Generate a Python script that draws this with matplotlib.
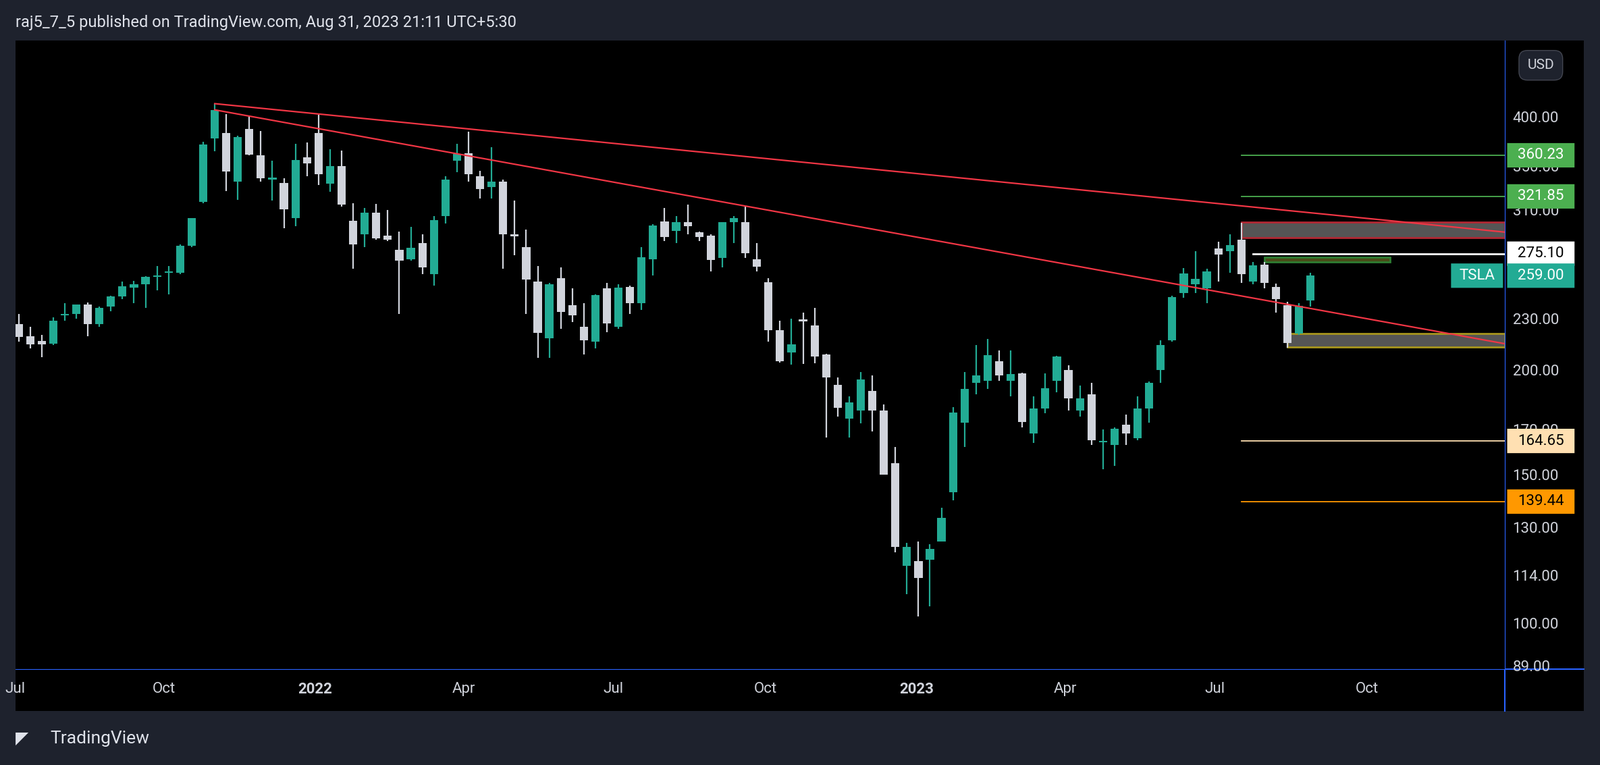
import numpy as np
import pandas as pd
import matplotlib
matplotlib.use('Agg')
import matplotlib.pyplot as plt
import matplotlib.dates as mdates
from matplotlib.patches import Rectangle, FancyBboxPatch
from matplotlib.lines import Line2D
import matplotlib.transforms as mtrans

plt.rcParams['font.family'] = 'Roboto'

# weekly TSLA candles, Jul 2021 .. Aug 2023 (open, high, low, close)
opens = [227.0, 219.5, 216.5, 215.0, 232.4, 233.0, 239.5, 227.0, 238.0, 244.9, 250.5, 253.0, 258.0, 261.0,
         261.0, 281.0, 317.0, 377.0, 383.0, 335.0, 387.0, 360.0, 337.0, 334.0, 303.0, 358.0,
         382.6, 333.0, 350.0, 301.0, 290.0, 308.0, 289.0, 278.0, 271.0, 283.0, 260.0, 305.0, 355.0, 362.0,
         340.0, 330.0, 335.0, 290.0, 280.0, 255.0, 218.0, 257.0, 239.0, 225.0, 216.0, 250.0, 225.0, 251.0,
         240.0, 271.0, 300.7, 293.0, 300.0, 291.9, 289.0, 272.0, 300.0, 300.0, 271.0, 254.5, 223.0, 210.0,
         229.8, 226.0, 208.6, 192.0, 175.0, 179.0, 189.0, 179.0, 155.0, 117.0,
         118.5, 118.9, 125.0, 143.0, 173.0, 193.0, 194.0, 205.0, 194.0, 198.0, 168.0, 180.0, 194.0, 199.9,
         179.0, 187.0, 164.0, 163.0, 172.0, 166.0, 180.0, 200.0, 217.0, 247.0, 253.0, 250.0, 279.0, 277.0,
         286.0, 255.0, 267.0, 251.0, 239.0, 221.0, 242.0]
highs = [233.0, 225.0, 220.0, 231.0, 240.0, 239.5, 240.5, 238.0, 245.0, 255.0, 255.4, 258.7, 266.0, 266.0,
         282.0, 303.5, 374.0, 414.5, 403.0, 380.0, 402.0, 385.0, 355.0, 338.0, 372.0, 373.0,
         402.7, 366.0, 365.0, 316.0, 312.0, 315.0, 310.0, 292.0, 296.0, 290.0, 305.0, 340.0, 371.6, 384.3,
         345.0, 368.0, 337.0, 318.0, 294.0, 266.0, 254.0, 265.0, 250.0, 240.0, 246.0, 254.0, 253.0, 252.0,
         280.0, 298.0, 311.9, 305.0, 314.7, 292.0, 290.0, 300.0, 305.0, 313.0, 283.0, 257.0, 229.0, 230.0,
         234.0, 237.0, 209.0, 196.0, 186.0, 198.9, 197.0, 182.0, 162.0, 124.5,
         125.0, 124.0, 137.0, 180.7, 199.0, 214.0, 217.7, 211.0, 211.0, 198.6, 186.0, 198.0, 207.8, 202.7,
         191.8, 193.0, 169.9, 170.8, 177.0, 185.9, 193.9, 217.0, 245.0, 264.6, 276.9, 264.0, 284.0, 290.3,
         299.3, 269.0, 269.0, 253.5, 241.0, 240.0, 261.0]
lows = [216.0, 212.0, 207.0, 214.0, 229.0, 230.0, 219.4, 225.0, 235.0, 243.0, 240.0, 237.0, 249.0, 246.0,
        260.0, 280.0, 316.0, 364.0, 326.7, 319.0, 360.0, 335.0, 318.0, 295.0, 296.5, 340.0,
        332.0, 326.0, 313.0, 264.0, 280.0, 286.0, 285.0, 233.3, 270.0, 260.0, 252.0, 299.0, 344.0, 335.0,
        320.0, 320.0, 264.0, 274.0, 233.0, 206.9, 206.9, 224.0, 228.0, 208.7, 212.0, 222.0, 224.0, 233.0,
        236.0, 259.0, 285.0, 283.0, 290.0, 285.0, 262.0, 265.0, 283.0, 272.0, 262.0, 216.0, 204.0, 203.0,
        203.5, 203.8, 166.2, 176.0, 166.2, 172.7, 169.0, 150.0, 121.4, 108.2,
        101.8, 104.6, 125.0, 140.0, 162.0, 187.0, 190.0, 194.0, 186.0, 171.0, 163.9, 177.5, 188.0, 179.0,
        176.0, 163.0, 152.4, 153.8, 163.0, 165.0, 173.0, 193.0, 216.0, 244.0, 247.0, 240.0, 255.0, 261.0,
        254.0, 253.0, 250.0, 234.0, 212.4, 220.0, 238.0]
closes = [219.0, 214.7, 214.5, 229.1, 233.0, 239.1, 226.8, 237.3, 244.5, 251.6, 253.2, 258.1, 258.4, 261.8,
          281.0, 303.2, 371.3, 407.4, 344.5, 379.0, 360.6, 338.3, 339.0, 310.9, 355.7, 352.3,
          342.3, 349.9, 314.6, 282.1, 307.8, 286.7, 285.7, 270.0, 279.4, 265.1, 301.8, 336.9, 361.5, 341.8,
          328.3, 335.0, 290.3, 288.5, 256.5, 221.3, 253.2, 234.5, 232.2, 216.8, 245.7, 227.3, 250.8, 240.1,
          272.2, 297.2, 288.2, 300.0, 296.7, 288.1, 270.2, 299.7, 303.4, 275.3, 265.3, 223.1, 205.0, 214.4,
          228.5, 207.5, 196.0, 180.2, 182.9, 194.9, 179.1, 150.2, 123.2, 123.2,
          113.1, 122.4, 133.4, 177.9, 190.0, 196.9, 208.3, 196.9, 197.8, 173.4, 180.1, 190.4, 207.5, 185.1,
          185.0, 165.1, 164.3, 170.1, 168.0, 180.1, 193.2, 214.0, 244.4, 260.5, 256.6, 261.8, 274.4, 281.4,
          260.0, 266.4, 253.9, 242.7, 215.5, 238.6, 259.0]

y_ticks = [89, 100, 114, 130, 150, 170, 200, 230, 270, 310, 350, 400]
x_tick_dates = ['2021-07-03', '2021-10-01', '2022-01-01', '2022-04-01', '2022-07-01', '2022-10-01',
                '2023-01-01', '2023-04-01', '2023-07-01', '2023-10-01']
x_tick_labels = ['Jul', 'Oct', '2022', 'Apr', 'Jul', 'Oct', '2023', 'Apr', 'Jul', 'Oct']

levels = [360.23, 321.85, 164.65, 139.44]
level_colors = ['#4caf50', '#4caf50', '#ffe0b2', '#ff9800']
last_price = 259.00
white_level = 275.10

BG = '#1e222d'
UP = '#22ab94'
DN = '#d1d4dc'
TXT = '#d1d4dc'
BLUE = '#2962ff'

dates = pd.date_range(end='2023-08-28', periods=len(closes), freq='W-MON')
xd = mdates.date2num(dates)

fig = plt.figure(figsize=(23.7, 11.33), dpi=100, facecolor=BG)
# black chart pane incl. price and time scales
fig.patches.append(Rectangle((15/1568, (750-697)/750), (1552-15)/1568, (697-40)/750,
                             transform=fig.transFigure, facecolor='black', edgecolor='none', zorder=-5))
ax = fig.add_axes([15/1568, (750-656)/750, (1475-15)/1568, (656-40)/750])
ax.set_zorder(2)
ax.set_facecolor('black')
ax.set_yscale('log')

w = 5.0
for x, o, h, l, c in zip(xd, opens, highs, lows, closes):
    col = UP if c >= o else DN
    ax.plot([x, x], [l, h], color=col, lw=1.6, zorder=3, solid_capstyle='butt')
    lo, hi = min(o, c), max(o, c)
    if hi / lo < 1.004:
        hi = lo * 1.004
    ax.add_patch(Rectangle((x - w/2, lo), w, hi - lo, facecolor=col, edgecolor='none', zorder=4))

x0 = xd[0] - 1.9
x1 = mdates.date2num(pd.Timestamp('2023-12-24'))
ax.set_xlim(x0, x1)
ax.set_ylim(88.1, 493)

# trend lines
peak = mdates.date2num(pd.Timestamp('2021-11-01'))
ax.plot([peak, x1], [415, 291.8], color='#f23645', lw=1.6, zorder=5)
ax.plot([peak, x1], [408, 214.9], color='#f23645', lw=1.6, zorder=5)

# zones
def d(s):
    return mdates.date2num(pd.Timestamp(s))

ax.add_patch(Rectangle((d('2023-07-17'), 287.2), x1 - d('2023-07-17'), 300 - 287.2,
                       facecolor='#555555', edgecolor='#b22833', lw=2, zorder=2))
ax.add_patch(Rectangle((d('2023-08-14'), 212.9), x1 - d('2023-08-14'), 220.9 - 212.9,
                       facecolor='#555555', edgecolor='#a8961c', lw=2, zorder=2))
ax.add_patch(Rectangle((d('2023-07-31'), 268.7), d('2023-10-15') - d('2023-07-31'), 272.6 - 268.7,
                       facecolor='#4a4a18', edgecolor='#2e7d32', lw=2, zorder=2))

for lv, col in zip(levels, level_colors):
    ax.plot([d('2023-07-17'), x1], [lv, lv], color=col, lw=1.3, zorder=2)
ax.plot([d('2023-07-24'), x1], [white_level, white_level], color='white', lw=2, zorder=2)

# axes styling
for s in ['top', 'left']:
    ax.spines[s].set_visible(False)
ax.spines['right'].set_color(BLUE)
ax.spines['bottom'].set_color(BLUE)
ax.yaxis.tick_right()
ax.set_yticks(y_ticks)
ax.set_yticklabels([f'{v:.2f}' for v in y_ticks])
ax.yaxis.set_minor_locator(matplotlib.ticker.NullLocator())
ax.tick_params(axis='y', colors=TXT, labelsize=16, length=0, pad=8)
ax.set_xticks([d(s) for s in x_tick_dates])
ax.set_xticklabels(x_tick_labels)
ax.tick_params(axis='x', colors=TXT, labelsize=16, length=0, pad=14)
for t in ax.get_xticklabels():
    if t.get_text() in ('2022', '2023'):
        t.set_fontweight('bold')

# extend blue scale borders
fig.add_artist(Line2D([1475/1568, 1475/1568], [(750-697)/750, (750-87)/750], color=BLUE, lw=1.5))
fig.add_artist(Line2D([1475/1568, 1552/1568], [(750-656)/750, (750-656)/750], color=BLUE, lw=1.5))

# price labels on scale
tr = mtrans.blended_transform_factory(ax.transAxes, ax.transData)
k = 1.034
def box(xa, xb, v, fc):
    ax.add_patch(FancyBboxPatch((xa, v / k), xb - xa, v * k - v / k, transform=tr, clip_on=False,
                                boxstyle='round,pad=0,rounding_size=0.002', fc=fc, ec='none', zorder=9))

def plabel(v, fc, tc):
    box(1.0014, 1.0466, v, fc)
    ax.text(1.024, v, f'{v:.2f}', transform=tr, ha='center', va='center', fontsize=16, color=tc,
            zorder=10, clip_on=False)

for lv, col in zip(levels, level_colors):
    plabel(lv, col, 'white' if col == '#4caf50' else 'black')
plabel(white_level, 'white', 'black')
plabel(last_price, UP, 'white')
box(0.9637, 0.9986, last_price, UP)
ax.text(0.981, last_price, 'TSLA', transform=tr, ha='center', va='center', fontsize=16, color='white',
        zorder=10, clip_on=False)

# header / footer / USD button
fig.text(15/1568, 1 - 22/750, 'raj5_7_5 published on TradingView.com, Aug 31, 2023 21:11 UTC+5:30',
         color='#e0e3eb', fontsize=17, va='center', ha='left')
fig.text(15/1568, 1 - 724/750, '\u25e4', color='#e0e3eb', fontsize=18, va='center', ha='left',
         fontfamily='DejaVu Sans', fontweight='bold')
fig.text(49/1568, 1 - 724/750, 'TradingView', color='#e0e3eb', fontsize=19, va='center', ha='left')
fig.text(1510/1568, 1 - 64/750, 'USD', color=TXT, fontsize=15, va='center', ha='center',
         bbox=dict(boxstyle='round,pad=0.6', fc='#1e222d', ec='#434651'))

fig.savefig('out.png', dpi=100, facecolor=BG)
